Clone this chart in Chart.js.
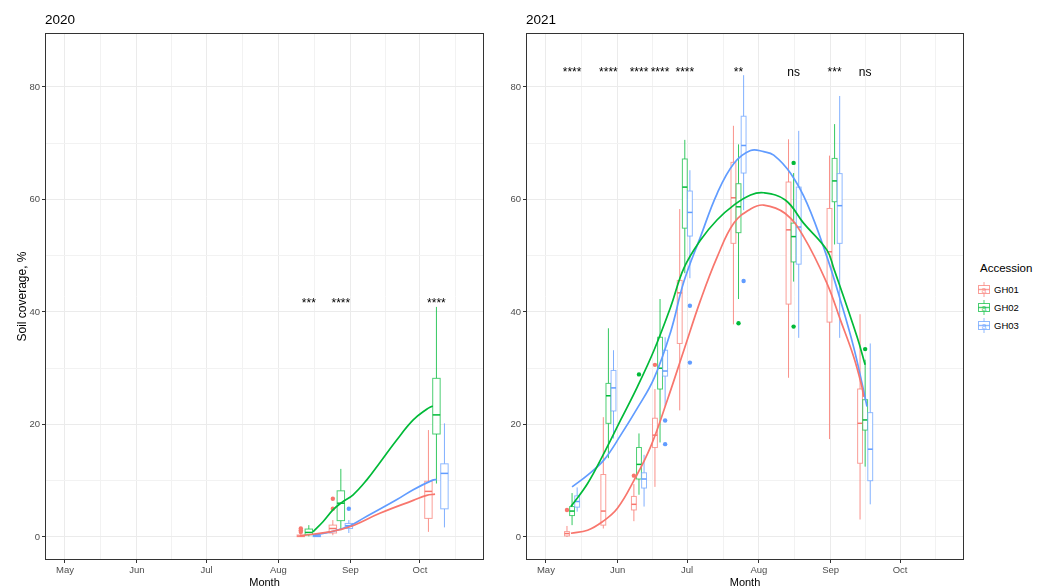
<!DOCTYPE html>
<html lang="en">
<head>
<meta charset="UTF-8">
<title>Soil coverage by accession, 2020 and 2021</title>
<script src="https://cdn.jsdelivr.net/npm/chart.js@4.4.1/dist/chart.umd.min.js"></script>
<style>
  body { margin: 0; background: #fff; font-family: 'Liberation Sans', Arial, sans-serif; }
  #wrap { position: relative; width: 1049px; height: 588px; overflow: hidden; }
  canvas { position: absolute; top: 0; }
  #c2020 { left: 0; }
  #c2021 { left: 490px; }
  .legend { position: absolute; left: 977px; top: 261px; color: #000; }
  .legend .ttl { margin: 0 0 5px 3px; font-size: 11.5px; line-height: 14px; }
  .legend .row { display: flex; align-items: center; height: 18px; font-size: 9.5px; }
  .legend svg { margin-right: 3px; }
</style>
</head>
<body>
<div id="wrap">
  <canvas id="c2020" width="490" height="588"></canvas>
  <canvas id="c2021" width="480" height="588"></canvas>
  <div class="legend" id="legend">
    <div class="ttl">Accession</div>
  </div>
</div>

<script>
// axis breaks (day of year)
const months = ['May', 'Jun', 'Jul', 'Aug', 'Sep', 'Oct'];
const monthDays = [121, 152, 182, 213, 244, 274];
const minorDays = [136.5, 167, 197.5, 228.5, 259, 289.5];
const yMajor = [0, 20, 40, 60, 80];
const yMinor = [10, 30, 50, 70];
const accessions = ['GH01', 'GH02', 'GH03'];

// ---- 2020 ----
const dates2020 = [226.1, 239.9, 281.1];
const signif2020 = ['***', '****', '****'];
// each row: [lower whisker, Q1, median, Q3, upper whisker]
const box2020GH01 = [[0, 0.05, 0.15, 0.35, 0.6], [0.3, 0.7, 1.5, 2.1, 3.0], [0.9, 3.3, 8.1, 9.9, 19.0]];
const box2020GH02 = [[0.1, 0.4, 0.8, 1.4, 2.1], [1.2, 2.9, 6.0, 8.2, 12.1], [9.5, 18.3, 21.7, 28.2, 40.9]];
const box2020GH03 = [[0, 0.05, 0.15, 0.3, 0.5], [0.7, 1.5, 2.0, 2.4, 3.0], [1.7, 5.0, 11.3, 13.0, 20.2]];
// outliers: [date index, value]
const out2020GH01 = [[0, 0.9], [0, 1.2], [0, 1.5], [1, 5.0], [1, 6.8]];
const out2020GH02 = [];
const out2020GH03 = [[1, 5.0]];
// smoothed trend: [day, value]
const smooth2020GH01 = [[222.2, 0.2], [235.1, 0.9], [243.8, 1.8], [256.7, 4.2], [271.1, 6.5], [276.9, 7.4], [280.5, 7.6]];
const smooth2020GH02 = [[227.9, 0.9], [232.2, 2.7], [236.5, 4.8], [240.2, 6.1], [245.2, 7.5], [251, 10.1], [256.7, 13.2], [263.9, 17.2], [271.1, 20.8], [276.9, 22.7], [279.5, 23.3]];
const smooth2020GH03 = [[227.9, 0.3], [236.5, 1.0], [243.8, 2.0], [249.5, 3.3], [263.9, 6.6], [271.1, 8.4], [279.5, 10.1], [281.2, 10.2]];

// ---- 2021 ----
const dates2021 = [132.3, 148, 161.2, 170.3, 181, 204.2, 228, 245.7, 258.9];
const signif2021 = ['****', '****', '****', '****', '****', '**', 'ns', '***', 'ns'];
const box2021GH01 = [
  [0, 0.18, 0.6, 0.95, 1.95], [1.5, 2.1, 4.6, 11.1, 21.3], [2.8, 4.8, 5.8, 7.2, 9.4],
  [8.9, 15.9, 18.1, 21.1, 26.3], [22.5, 34.4, 43.4, 45.6, 58.3], [37.8, 52.2, 60.3, 66.6, 73.1],
  [28.3, 41.4, 54.6, 63.1, 70.7], [17.4, 38.2, 50.7, 58.4, 67.8], [3.1, 13.1, 20.2, 26.3, 39.6]
];
const box2021GH02 = [
  [2.1, 3.8, 4.6, 5.4, 7.8], [14.0, 20.2, 25.1, 27.3, 37.1], [7.5, 10.3, 12.9, 15.9, 18.4],
  [16.8, 26.3, 30.0, 35.5, 42.3], [46.9, 54.9, 62.2, 67.2, 70.6], [42.3, 54.1, 58.7, 62.8, 69.8],
  [45.4, 48.9, 53.4, 55.8, 64.7], [52.0, 59.6, 63.3, 67.3, 73.4], [12.5, 19.0, 20.8, 24.4, 31.5]
];
const box2021GH03 = [
  [4.5, 5.3, 6.3, 7.3, 8.8], [17.5, 22.4, 26.5, 29.6, 33.2], [5.4, 8.7, 10.3, 11.4, 14.6],
  [23.2, 28.6, 29.5, 33.2, 35.5], [46.0, 53.5, 57.7, 61.5, 65.2], [58.1, 64.7, 69.6, 74.8, 82.1],
  [35.4, 48.5, 55.1, 62.2, 72.2], [35.4, 52.2, 58.9, 64.6, 78.4], [5.8, 10.0, 15.6, 22.1, 34.4]
];
const out2021GH01 = [[0, 4.8], [2, 10.9], [3, 30.6]];
const out2021GH02 = [[2, 28.9], [5, 38.0], [6, 66.5], [6, 37.4], [8, 33.4]];
const out2021GH03 = [[3, 20.7], [3, 16.5], [4, 41.1], [4, 31.0], [5, 45.5]];
const smooth2021GH01 = [[131.8, 0.65], [139, 1.2], [145.4, 2.7], [151.9, 5.1], [159.1, 10.1], [166.3, 16.1], [173.5, 24.4], [180.6, 33.2], [187.8, 42.1], [195, 49.8], [202.2, 55.8], [209.4, 58.3], [215.1, 59.0], [224.4, 57.5], [232.3, 53.4], [242.4, 45.1], [248.2, 38.6], [253.9, 32.1], [257.5, 26.7], [258.2, 24.9]];
const smooth2021GH02 = [[131.8, 5.4], [139, 9.5], [146.1, 14.9], [153.3, 20.8], [160.5, 26.7], [167.7, 33.2], [174.9, 40.9], [180.6, 47.8], [187.8, 52.8], [195, 56.4], [202.2, 59.0], [209.4, 60.8], [215.1, 61.2], [224.4, 59.9], [232.3, 55.8], [242.4, 51.0], [245.3, 47.8], [255.4, 35.6], [258.9, 30.6]];
const smooth2021GH03 = [[132.3, 8.9], [139, 11.0], [146.1, 13.7], [153.3, 18.1], [160.5, 22.9], [167.7, 28.2], [174.9, 36.5], [180.6, 45.4], [187.8, 53.4], [195, 61.1], [202.2, 66.4], [209.4, 68.7], [215.1, 68.5], [219.4, 67.9], [226.6, 64.7], [233.8, 59.3], [242.4, 49.8], [248.2, 42.1], [253.9, 33.8], [258.2, 26.1], [259.7, 23.2]];

// ---- styling ----
const FONT = "'Liberation Sans', Arial, sans-serif";
const COLORS = ['#F8766D', '#00BA38', '#619CFF'];
const BOX_ALPHA = 0.7;
const X_MIN = 112.4, X_MAX = 301.6;
const Y_MIN = -4.1, Y_MAX = 89.6;

function fade(hex, a) {
  const n = parseInt(hex.slice(1), 16);
  return `rgba(${n >> 16}, ${(n >> 8) & 255}, ${n & 255}, ${a})`;
}

function makePanel(canvasId, p) {
  const isMinorX = t => t && minorDays.includes(t.value);
  const isMinorY = t => t && yMinor.includes(t.value);

  // boxes + whiskers, drawn under the lines
  const boxPlugin = {
    id: 'boxes',
    beforeDatasetsDraw(chart) {
      const { ctx, chartArea: a, scales: { x, y } } = chart;
      ctx.save();
      ctx.beginPath();
      ctx.rect(a.left, a.top, a.right - a.left, a.bottom - a.top);
      ctx.clip();
      p.boxes.forEach((rows, k) => {
        const off = (k - 1) * p.dodge;
        const col = fade(COLORS[k], BOX_ALPHA);
        rows.forEach((b, i) => {
          const cx = x.getPixelForValue(p.dates[i] + off);
          const hw = x.getPixelForValue(p.dates[i] + off + p.width / 2) - cx;
          const [lo, q1, md, q3, hi] = b.map(v => y.getPixelForValue(v));
          ctx.strokeStyle = fade(COLORS[k], 0.8);
          ctx.lineWidth = 1;
          ctx.beginPath();
          ctx.moveTo(cx, q3); ctx.lineTo(cx, hi);
          ctx.moveTo(cx, q1); ctx.lineTo(cx, lo);
          ctx.stroke();
          ctx.strokeStyle = col;
          ctx.fillStyle = '#fff';
          ctx.fillRect(cx - hw, q3, 2 * hw, q1 - q3);
          ctx.strokeRect(cx - hw, q3, 2 * hw, q1 - q3);
          ctx.strokeStyle = COLORS[k];
          ctx.lineWidth = 1.5;
          ctx.beginPath();
          ctx.moveTo(cx - hw, md); ctx.lineTo(cx + hw, md);
          ctx.stroke();
        });
      });
      ctx.restore();
    },
    afterDatasetsDraw(chart) {
      const { ctx, scales: { x, y } } = chart;
      ctx.save();
      ctx.fillStyle = '#000';
      ctx.font = `12px ${FONT}`;
      ctx.textAlign = 'center';
      ctx.textBaseline = 'alphabetic';
      p.signif.forEach((s, i) => {
        ctx.fillText(s, x.getPixelForValue(p.dates[i]), y.getPixelForValue(p.signifY));
      });
      ctx.restore();
    },
    afterDraw(chart) {
      const { ctx, chartArea: a } = chart;
      ctx.save();
      ctx.strokeStyle = '#333';
      ctx.lineWidth = 1;
      ctx.strokeRect(a.left + 0.5, a.top + 0.5, a.right - a.left - 1, a.bottom - a.top - 1);
      ctx.fillStyle = '#000';
      ctx.font = `13.5px ${FONT}`;
      ctx.textBaseline = 'middle';
      ctx.textAlign = 'left';
      ctx.fillText(p.title, a.left, 20);
      ctx.restore();
    }
  };

  const datasets = [];
  p.smooth.forEach((pts, k) => {
    datasets.push({
      label: accessions[k] + ' trend',
      data: pts.map(([d, v]) => ({ x: d, y: v })),
      showLine: true,
      borderColor: COLORS[k],
      borderWidth: 1.7,
      pointRadius: 0,
      tension: 0.4,
      order: 0
    });
  });
  p.outliers.forEach((pts, k) => {
    const off = (k - 1) * p.dodge;
    datasets.push({
      label: accessions[k] + ' outliers',
      data: pts.map(([i, v]) => ({ x: p.dates[i] + off, y: v })),
      showLine: false,
      pointRadius: 2.2,
      pointBackgroundColor: COLORS[k],
      pointBorderWidth: 0,
      order: 1
    });
  });

  return new Chart(document.getElementById(canvasId), {
    type: 'scatter',
    data: { datasets },
    options: {
      responsive: false,
      animation: false,
      layout: { padding: { top: 33, right: 6, left: 0, bottom: 0 } },
      plugins: { legend: { display: false }, tooltip: { enabled: false } },
      scales: {
        x: {
          type: 'linear',
          min: X_MIN,
          max: X_MAX,
          afterBuildTicks: sc => {
            sc.ticks = [...monthDays, ...minorDays].sort((a, b) => a - b).map(v => ({ value: v }));
          },
          afterFit: sc => { sc.height = 28; },
          border: { display: false },
          grid: {
            color: c => isMinorX(c.tick) ? '#f2f2f2' : '#ebebeb',
            tickColor: c => isMinorX(c.tick) ? 'rgba(0,0,0,0)' : '#333',
            tickLength: 3,
            lineWidth: 1
          },
          ticks: {
            autoSkip: false,
            maxRotation: 0,
            padding: 2,
            color: '#4d4d4d',
            font: { family: FONT, size: 9.5 },
            callback: v => {
              const i = monthDays.indexOf(v);
              return i < 0 ? '' : months[i];
            }
          },
          title: {
            display: true,
            text: 'Month',
            color: '#000',
            font: { family: FONT, size: 11 },
            padding: { top: 0, bottom: -2 }
          }
        },
        y: {
          type: 'linear',
          min: Y_MIN,
          max: Y_MAX,
          afterBuildTicks: sc => {
            sc.ticks = [...yMajor, ...yMinor].sort((a, b) => a - b).map(v => ({ value: v }));
          },
          afterFit: sc => { sc.width = p.yAxisWidth; },
          border: { display: false },
          grid: {
            color: c => isMinorY(c.tick) ? '#f2f2f2' : '#ebebeb',
            tickColor: c => isMinorY(c.tick) ? 'rgba(0,0,0,0)' : '#333',
            tickLength: 3,
            lineWidth: 1
          },
          ticks: {
            padding: 2,
            color: '#4d4d4d',
            font: { family: FONT, size: 9.5 },
            callback: v => yMajor.includes(v) ? String(v) : ''
          },
          title: {
            display: p.yTitle !== '',
            text: p.yTitle,
            color: '#000',
            font: { family: FONT, size: 12 },
            padding: { top: 15, bottom: 0 }
          }
        }
      }
    },
    plugins: [boxPlugin]
  });
}

makePanel('c2020', {
  title: '2020',
  yTitle: 'Soil coverage, %',
  yAxisWidth: 45,
  dates: dates2020,
  dodge: 3.45,
  width: 3.2,
  boxes: [box2020GH01, box2020GH02, box2020GH03],
  outliers: [out2020GH01, out2020GH02, out2020GH03],
  smooth: [smooth2020GH01, smooth2020GH02, smooth2020GH03],
  signif: signif2020,
  signifY: 40.8
});

makePanel('c2021', {
  title: '2021',
  yTitle: '',
  yAxisWidth: 36,
  dates: dates2021,
  dodge: 2.2,
  width: 2.1,
  boxes: [box2021GH01, box2021GH02, box2021GH03],
  outliers: [out2021GH01, out2021GH02, out2021GH03],
  smooth: [smooth2021GH01, smooth2021GH02, smooth2021GH03],
  signif: signif2021,
  signifY: 81.9
});

// legend with boxplot keys
const legend = document.getElementById('legend');
accessions.forEach((name, k) => {
  const c = fade(COLORS[k], BOX_ALPHA);
  const row = document.createElement('div');
  row.className = 'row';
  row.innerHTML =
    `<svg width="14" height="17" viewBox="0 0 14 17">
       <line x1="7" y1="1" x2="7" y2="16" stroke="${c}" stroke-width="1"/>
       <rect x="1.5" y="4.5" width="11" height="8" fill="#fff" stroke="${c}" stroke-width="1"/>
       <line x1="1.5" y1="8.5" x2="12.5" y2="8.5" stroke="${c}" stroke-width="1.4"/>
       <text x="7" y="12" text-anchor="middle" font-size="9" font-family="Liberation Sans, Arial, sans-serif" fill="${c}">a</text>
     </svg><span>${name}</span>`;
  legend.appendChild(row);
});
</script>
</body>
</html>
